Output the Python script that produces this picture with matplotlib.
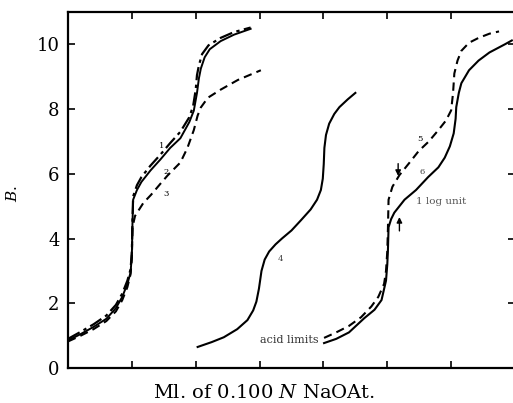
import matplotlib
matplotlib.use("Agg")
import matplotlib.pyplot as plt

# curves 1-3 (left group)
x1 = [0.0, 0.2, 0.4, 0.6, 0.75, 0.85, 0.93, 0.98, 1.0, 1.01, 1.02, 1.08, 1.15, 1.29, 1.45, 1.6,
      1.76, 1.9, 1.96, 2.0, 2.02, 2.05, 2.1, 2.2, 2.39, 2.6, 2.86]
y1 = [0.9, 1.12, 1.35, 1.62, 1.95, 2.3, 2.7, 3.05, 3.6, 4.6, 5.3, 5.65, 5.9, 6.25, 6.6, 6.95,
      7.3, 7.75, 8.1, 8.6, 9.05, 9.35, 9.7, 9.97, 10.2, 10.38, 10.52]
x2 = [0.0, 0.2, 0.4, 0.6, 0.75, 0.85, 0.93, 0.98, 1.0, 1.01, 1.02, 1.08, 1.15, 1.29, 1.45, 1.6,
      1.76, 1.9, 1.97, 2.02, 2.05, 2.08, 2.14, 2.22, 2.39, 2.6, 2.86]
y2 = [0.85, 1.05, 1.27, 1.52, 1.85, 2.2, 2.6, 2.95, 3.5, 4.5, 5.2, 5.5, 5.75, 6.1, 6.45, 6.8,
      7.1, 7.6, 7.95, 8.5, 8.95, 9.25, 9.6, 9.85, 10.1, 10.3, 10.48]
x3 = [0.0, 0.2, 0.4, 0.6, 0.75, 0.85, 0.93, 0.98, 1.0, 1.01, 1.05, 1.18, 1.3, 1.45, 1.56, 1.76,
      1.87, 1.97, 2.03, 2.08, 2.19, 2.39, 2.66, 3.02]
y3 = [0.82, 1.0, 1.2, 1.45, 1.75, 2.1, 2.5, 2.9, 3.4, 4.35, 4.7, 5.1, 5.35, 5.7, 5.95, 6.35,
      6.8, 7.35, 7.8, 8.05, 8.35, 8.6, 8.9, 9.2]

# curve 4 (middle)
x4 = [2.03, 2.25, 2.44, 2.65, 2.81, 2.9, 2.95, 2.99, 3.03, 3.08, 3.15, 3.25, 3.35, 3.5, 3.65,
      3.8, 3.9, 3.96, 3.99, 4.005, 4.015, 4.04, 4.09, 4.17, 4.25, 4.38, 4.5]
y4 = [0.65, 0.8, 0.95, 1.2, 1.48, 1.78, 2.05, 2.45, 3.0, 3.35, 3.6, 3.82, 4.0, 4.25, 4.57,
      4.9, 5.2, 5.5, 5.85, 6.3, 6.8, 7.2, 7.55, 7.85, 8.06, 8.3, 8.5]

# curves 5 and 6 (right)
x5 = [4.01, 4.2, 4.4, 4.59, 4.75, 4.86, 4.95, 4.98, 5.0, 5.01, 5.02, 5.08, 5.19, 5.35, 5.49,
      5.65, 5.8, 5.92, 6.0, 6.03, 6.05, 6.1, 6.16, 6.28, 6.43, 6.6, 6.75]
y5 = [0.93, 1.1, 1.3, 1.57, 1.9, 2.2, 2.6, 3.0, 3.6, 4.3, 5.2, 5.6, 5.96, 6.35, 6.7,
      7.0, 7.35, 7.65, 7.96, 8.5, 9.1, 9.5, 9.8, 10.05, 10.2, 10.33, 10.4]
x6 = [4.01, 4.2, 4.4, 4.64, 4.8, 4.91, 4.98, 5.0, 5.01, 5.02, 5.06, 5.11, 5.27, 5.45, 5.64,
      5.8, 5.9, 5.98, 6.04, 6.07, 6.08, 6.12, 6.16, 6.28, 6.43, 6.6, 6.84, 6.95]
y6 = [0.77, 0.9, 1.1, 1.54, 1.8, 2.1, 2.7, 3.2, 3.64, 4.35, 4.6, 4.8, 5.2, 5.5, 5.9,
      6.2, 6.5, 6.85, 7.25, 7.7, 8.06, 8.5, 8.8, 9.2, 9.5, 9.75, 10.0, 10.12]

yticks = [0, 2, 4, 6, 8, 10]
xticks = [0, 1, 2, 3, 4, 5, 6, 7]

plt.rcParams["font.family"] = "DejaVu Serif"
plt.rcParams["mathtext.fontset"] = "dejavuserif"

fig = plt.figure(figsize=(5.13, 4.03), dpi=100)
ax = fig.add_axes([68 / 513, 35 / 403, 447 / 513, 356 / 403])

ax.plot(x1, y1, color="black", lw=1.6, linestyle=(0, (6, 2, 1.5, 2)))
ax.plot(x2, y2, color="black", lw=1.4)
ax.plot(x3, y3, color="black", lw=1.5, linestyle=(0, (4, 2.5)))
ax.plot(x4, y4, color="black", lw=1.5)
ax.plot(x5, y5, color="black", lw=1.5, linestyle=(0, (4, 2.5)))
ax.plot(x6, y6, color="black", lw=1.5)

# curve numbers
ax.text(1.42, 6.8, "1", fontsize=6)
ax.text(1.5, 6.0, "2", fontsize=6)
ax.text(1.5, 5.3, "3", fontsize=6)
ax.text(3.28, 3.3, "4", fontsize=6, color="#444444")
ax.text(5.47, 7.0, "5", fontsize=6)
ax.text(5.5, 6.0, "6", fontsize=6, color="#444444")

ax.text(3.92, 0.85, "acid limits", fontsize=8, ha="right", va="center", color="#333333")
ax.text(5.45, 5.15, "1 log unit", fontsize=7.5, ha="left", va="center", color="#555555")

ax.annotate("", xy=(5.17, 5.85), xytext=(5.17, 6.4),
            arrowprops=dict(arrowstyle="-|>", color="black", lw=1.0, mutation_scale=8))
ax.annotate("", xy=(5.19, 4.75), xytext=(5.19, 4.15),
            arrowprops=dict(arrowstyle="-|>", color="black", lw=1.0, mutation_scale=8))

ax.set_xlim(0, 7)
ax.set_ylim(0, 11)
ax.set_yticks(yticks)
ax.set_xticks(xticks)
ax.set_xticklabels([])
ax.tick_params(direction="in", length=5, width=1.2, top=True, right=True,
               labelsize=13, pad=6)
for sp in ax.spines.values():
    sp.set_linewidth(1.6)

ax.set_ylabel("$B.$", fontsize=11)
ax.yaxis.set_label_coords(-0.107, 0.49)
ax.set_xlabel("Ml. of 0.100 $N$ NaOAt.", fontsize=14)
ax.xaxis.set_label_coords(0.438, -0.045)

fig.savefig("out.png", dpi=100)
